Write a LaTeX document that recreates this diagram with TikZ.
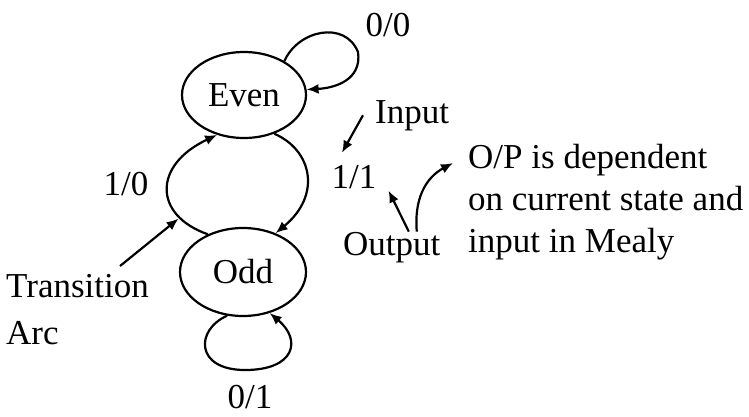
\documentclass[tikz,border=0pt]{standalone}
\usepackage{fontspec}
\setmainfont{Liberation Serif}
\usetikzlibrary{shapes.geometric, arrows.meta, positioning}

\begin{document}
\begin{tikzpicture}[
    x=1pt, y=-1pt,
    every node/.style={font=\fontsize{35}{42}\selectfont, inner sep=0pt},
    state/.style={ellipse, draw, line width=2.2pt, minimum width=124pt, minimum height=86pt},
    lbl/.style={anchor=base},
    note/.style={anchor=north west, align=left},
    arr/.style={-{Latex[length=12pt,width=10pt]}, line width=2.2pt}
  ]
  \useasboundingbox (0,0) rectangle (749,416);

  % Nodes
  \node[state] (even) at (244,95) {Even};
  \node[state, minimum width=126pt, minimum height=88pt] (odd) at (243,272) {Odd};
  \node[lbl] (l00) at (388,36) {0/0};
  \node[lbl] (l10) at (126,195) {1/0};
  \node[lbl] (l11) at (354,188) {1/1};
  \node[lbl] (l01) at (250,408) {0/1};
  \node[anchor=base west] (inp) at (375,123) {Input};
  \node[anchor=base west] (out) at (343,255) {Output};
  \node[note] (trans) at (6,274) {Transition\\[5pt]Arc};
  \node[note] (mealy) at (468,144) {O/P is dependent\\on current state and\\input in Mealy};

  % Connections
  \draw[arr] (even.40) .. controls (298,30) and (345,20) .. (358,52)
    .. controls (362,80) and (335,88) .. (even.5);
  \draw[arr] (even.-52) .. controls (312,150) and (322,195) .. (odd.50);
  \draw[arr] (odd.133) .. controls (153,215) and (153,165) .. coordinate[pos=0.22] (arcpt) (even.236);
  \draw[arr] (odd.-110) .. controls (195,330) and (195,370) .. (245,370)
    .. controls (295,370) and (302,340) .. (odd.-57);
  \draw[arr, shorten >=1.5pt] ([xshift=-29pt,yshift=8pt]trans.north east) -- (arcpt);
  \draw[arr] ([xshift=-12pt]inp.west) -- ([xshift=-12pt,yshift=12pt]l11.north);
  \draw[arr] ([xshift=17pt]out.north) -- ([xshift=12pt,yshift=-2pt]l11.south east);
  \draw[arr] ([xshift=25pt]out.north) .. controls (414,200) and (425,178) .. ([xshift=-15pt,yshift=-19pt]mealy.north west);
\end{tikzpicture}
\end{document}
